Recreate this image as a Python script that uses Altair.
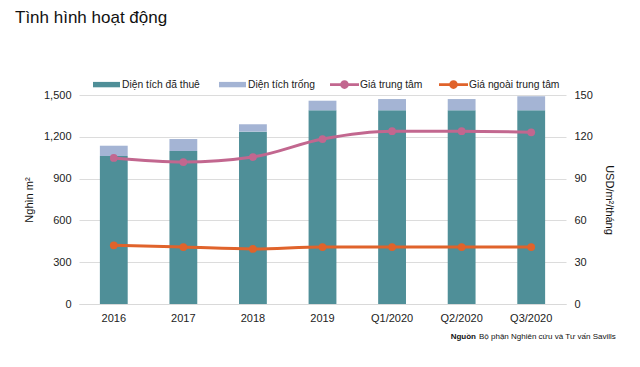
import altair as alt
import pandas as pd

periods = ["2016", "2017", "2018", "2019", "Q1/2020", "Q2/2020", "Q3/2020"]
rented = [1062, 1098, 1237, 1390, 1390, 1390, 1390]
total = [1136, 1184, 1290, 1459, 1471, 1471, 1491]
price_central = [104.8, 101.9, 105.5, 118.4, 124.0, 124.0, 123.2]
price_outside = [42.1, 40.9, 39.5, 40.9, 40.9, 40.9, 40.9]

bar_names = ["Diện tích đã thuê", "Diện tích trống"]
line_names = ["Giá trung tâm", "Giá ngoài trung tâm"]
bar_colors = ["#4F8F98", "#A4B4D4"]
line_colors = ["#C2678F", "#E0632B"]

FONT = "Liberation Sans"
BAR_SYMBOL = "M-1,-0.2H1V0.2H-1Z"
LINE_SYMBOL = ("M-1,-0.09H1V0.09H-1Z "
               "M0.3,0A0.3,0.3 0 1,1 -0.3,0A0.3,0.3 0 1,1 0.3,0Z")

bar_rows = []
for p, r, t in zip(periods, rented, total):
    bar_rows.append({"period": p, "series": bar_names[0], "value": r, "order": 0})
    bar_rows.append({"period": p, "series": bar_names[1], "value": t - r, "order": 1})
bars_df = pd.DataFrame(bar_rows)

line_rows = []
for p, c, o in zip(periods, price_central, price_outside):
    line_rows.append({"period": p, "series": line_names[0], "price": c})
    line_rows.append({"period": p, "series": line_names[1], "price": o})
lines_df = pd.DataFrame(line_rows)

x_enc = alt.X("period:N", sort=periods, title=None,
              scale=alt.Scale(paddingInner=0.6, paddingOuter=0.3),
              axis=alt.Axis(labelAngle=0, domainColor="#d9d9d9", ticks=False,
                            labelPadding=8, labelFontSize=11, labelColor="#222",
                            labelFont=FONT))

bars = alt.Chart(bars_df).mark_bar().encode(
    x=x_enc,
    y=alt.Y("sum(value):Q", title="Nghìn m²",
            scale=alt.Scale(domain=[0, 1500]),
            axis=alt.Axis(values=[0, 300, 600, 900, 1200, 1500], format=",d",
                          domain=False, ticks=False, labelPadding=8,
                          gridColor="#dcdcdc", labelFontSize=11, labelColor="#222",
                          labelFont=FONT, titleFont=FONT, titleFontSize=11,
                          titleFontWeight="normal", titleColor="#111", titlePadding=9)),
    color=alt.Color("series:N", sort=bar_names,
                    scale=alt.Scale(domain=bar_names, range=bar_colors),
                    legend=alt.Legend(orient="none", legendX=13, legendY=-25,
                                      direction="horizontal", title=None,
                                      symbolType=BAR_SYMBOL, symbolSize=729,
                                      labelFontSize=10.3, labelFont=FONT,
                                      labelColor="#222", columnPadding=18,
                                      labelOffset=1)),
    order=alt.Order("order:Q", sort="ascending"),
)

lines = alt.Chart(lines_df).mark_line(point=alt.OverlayMarkDef(filled=True, size=60),
                                       strokeWidth=3, interpolate="monotone").encode(
    x=alt.X("period:N", sort=periods),
    y=alt.Y("price:Q", title="USD/m²/tháng",
            scale=alt.Scale(domain=[0, 150]),
            axis=alt.Axis(orient="right", values=[0, 30, 60, 90, 120, 150],
                          domain=False, ticks=False, labelPadding=8, grid=False,
                          labelFontSize=11, labelColor="#222", labelFont=FONT,
                          titleFont=FONT, titleFontSize=11, titleFontWeight="normal",
                          titleColor="#111", titlePadding=11)),
    color=alt.Color("series:N", sort=line_names,
                    scale=alt.Scale(domain=line_names, range=line_colors),
                    legend=alt.Legend(orient="none", legendX=251, legendY=-25,
                                      direction="horizontal", title=None,
                                      symbolType=LINE_SYMBOL, symbolSize=841,
                                      symbolStrokeWidth=0,
                                      labelFontSize=10.3, labelFont=FONT,
                                      labelColor="#222", columnPadding=16,
                                      labelOffset=1)),
)

src_bold = alt.Chart(pd.DataFrame({"t": ["Nguồn"]})).mark_text(
    align="right", baseline="middle", fontSize=8, fontWeight="bold", font=FONT, color="#111"
).encode(text="t:N", x=alt.value(397), y=alt.value(242))

src_rest = alt.Chart(pd.DataFrame({"t": ["Bộ phận  Nghiên cứu và Tư vấn Savills"]})).mark_text(
    align="left", baseline="middle", fontSize=8, font=FONT, color="#111"
).encode(text="t:N", x=alt.value(400), y=alt.value(242))

chart = alt.layer(bars, lines, src_bold, src_rest).resolve_scale(
    y="independent", color="independent"
).properties(
    width=487, height=209,
    padding={"left": 71, "top": 87, "right": 66, "bottom": 55},
    autosize=alt.AutoSizeParams(type="none"),
    title=alt.TitleParams("Tình hình hoạt động", anchor="start", frame="group",
                          dx=-64, fontSize=17, fontWeight="normal", font=FONT,
                          color="#111", offset=43),
).configure_view(stroke=None)

chart.save("out.html", embed_options={"renderer": "svg", "actions": False})
